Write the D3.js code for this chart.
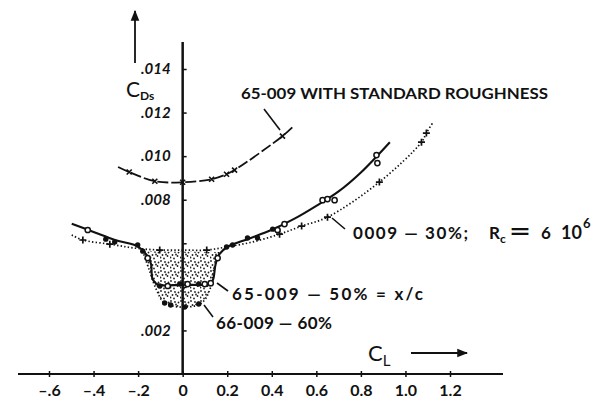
<!DOCTYPE html>
<html>
<head>
<meta charset="utf-8">
<script src="https://cdn.jsdelivr.net/npm/d3@7"></script>
<style>
  body { margin: 0; background: #fff; }
  svg { display: block; }
  text { font-family: Lato, "Open Sans", sans-serif; fill: #111; }
</style>
</head>
<body>
<svg id="chart" width="605" height="401"></svg>
<script>
// [CL, CDs] pairs

// 65-009 with standard roughness (dashed, x marks)
var roughLine = [[-0.29, 0.0095], [-0.24, 0.00927], [-0.125, 0.00885], [0, 0.0088], [0.13, 0.00894],
  [0.197, 0.00917], [0.233, 0.00936], [0.448, 0.01092], [0.50, 0.0114]];
var roughMarks = [[-0.24, 0.00927], [-0.125, 0.00885], [0, 0.0088], [0.13, 0.00894],
  [0.197, 0.00917], [0.233, 0.00936], [0.448, 0.01092]];

// 0009, transition 30% (dotted, + marks)
var line0009 = [[-0.498, 0.00638], [-0.448, 0.00615], [-0.327, 0.00596], [-0.215, 0.00578], [-0.103, 0.00569],
  [0, 0.00569], [0.108, 0.00569], [0.197, 0.00583], [0.314, 0.00606], [0.435, 0.00642], [0.534, 0.00679],
  [0.65, 0.0072], [0.883, 0.00881], [1.072, 0.01064], [1.094, 0.01106], [1.121, 0.01151]];
var marks0009 = [[-0.448, 0.00615], [-0.327, 0.00596], [-0.103, 0.00569], [0.108, 0.00569], [0.435, 0.00642],
  [0.534, 0.00679], [0.65, 0.0072], [0.883, 0.00881], [1.072, 0.01064], [1.094, 0.01106]];

// 65-009, transition 50% (solid)
var line65 = [[-0.498, 0.0069], [-0.40, 0.00652], [-0.30, 0.00614], [-0.20, 0.00585], [-0.16, 0.00545],
  [-0.142, 0.00505], [-0.135, 0.00435], [-0.11, 0.0041], [0, 0.0041], [0.125, 0.00415], [0.137, 0.00435],
  [0.148, 0.00505], [0.165, 0.0055], [0.20, 0.00583], [0.30, 0.00622], [0.40, 0.00662], [0.50, 0.00712],
  [0.60, 0.00772], [0.70, 0.00838], [0.80, 0.00925], [0.93, 0.01064]];

// 66-009, transition 60% (dotted)
var line66 = [[-0.179, 0.00564], [-0.150, 0.00477], [-0.117, 0.00385], [-0.081, 0.00326], [0.009, 0.00307],
  [0.085, 0.00326], [0.121, 0.00385], [0.139, 0.00477], [0.166, 0.0056]];

// measured points
var openPoints = [[-0.426, 0.00661], [-0.157, 0.00532], [-0.067, 0.00404], [0.022, 0.00413], [0.099, 0.00413],
  [0.126, 0.00417], [0.157, 0.00532], [0.426, 0.00661], [0.457, 0.00688], [0.628, 0.00798], [0.65, 0.00803],
  [0.682, 0.00798], [0.87, 0.01005], [0.874, 0.00968]];
var filledPoints = [[-0.345, 0.00619], [-0.305, 0.00606], [-0.202, 0.00592], [-0.179, 0.00564], [-0.103, 0.00404],
  [-0.013, 0.00413], [0.072, 0.00413], [-0.081, 0.00326], [-0.054, 0.00317], [0.009, 0.00307], [0.072, 0.00321],
  [0.197, 0.00583], [0.224, 0.00592], [0.291, 0.00624], [0.336, 0.00624], [0.404, 0.00665]];

var xTicks = [-0.6, -0.4, -0.2, 0, 0.2, 0.4, 0.6, 0.8, 1.0, 1.2];
var xTickLabels = ["\u2013.6", "\u2013.4", "\u2013.2", "0", "0.2", "0.4", "0.6", "0.8", "1.0", "1.2"];
var yTicks = [0.002, 0.004, 0.006, 0.008, 0.010, 0.012, 0.014];
var yTickLabels = [".002", "", "", ".008", ".010", ".012", ".014"];

var svg = d3.select("#chart");

var x = d3.scaleLinear().domain([-0.6, 1.2]).range([49, 450]),
  y = d3.scaleLinear().domain([0, 0.014]).range([374, 69]);

var line = d3.line()
  .x(function(d) { return x(d[0]); })
  .y(function(d) { return y(d[1]); })
  .curve(d3.curveCatmullRom.alpha(0.5));

// stipple pattern for the low drag bucket
var defs = svg.append("defs");
var pat = defs.append("pattern")
  .attr("id", "stipple")
  .attr("patternUnits", "userSpaceOnUse")
  .attr("width", 10).attr("height", 10);
[[1, 1], [5, 2], [2.5, 5], [7.5, 6], [4, 8.5], [8.5, 2.5], [0.5, 7.5], [6, 4.5]].forEach(function(p) {
  pat.append("circle").attr("cx", p[0]).attr("cy", p[1]).attr("r", 0.9).attr("fill", "#222");
});

svg.append("path")
  .attr("d", line(line66) + "Z")
  .attr("fill", "url(#stipple)");

// axes
var xAxis = d3.axisBottom(x)
  .tickValues(xTicks)
  .tickSize(3)
  .tickFormat(function(d, i) { return xTickLabels[i]; });

var gx = svg.append("g").attr("transform", "translate(0," + y(0) + ")").call(xAxis);
gx.select(".domain").remove();
gx.selectAll(".tick line").attr("y1", -3).attr("stroke", "#111").attr("stroke-width", 1.5);
gx.selectAll(".tick text")
  .attr("y", 11)
  .attr("font-size", 16)
  .attr("font-weight", "bold")
  .attr("font-family", "Lato, sans-serif")
  .attr("fill", "#111");

svg.append("line")
  .attr("x1", 18).attr("x2", 503)
  .attr("y1", y(0)).attr("y2", y(0))
  .attr("stroke", "#111").attr("stroke-width", 2);

var yAxis = d3.axisLeft(y)
  .tickValues(yTicks)
  .tickSize(4)
  .tickPadding(8)
  .tickFormat(function(d, i) { return yTickLabels[i]; });

var gy = svg.append("g").attr("transform", "translate(" + x(0) + ",0)").call(yAxis);
gy.select(".domain").remove();
gy.selectAll(".tick line").attr("x2", 4).attr("stroke", "#111").attr("stroke-width", 1.5);
gy.selectAll(".tick text")
  .attr("font-size", 15)
  .attr("font-weight", "bold")
  .attr("font-style", "italic")
  .attr("font-family", "Lato, sans-serif")
  .attr("fill", "#111");

svg.append("line")
  .attr("x1", x(0)).attr("x2", x(0))
  .attr("y1", 42).attr("y2", y(0))
  .attr("stroke", "#111").attr("stroke-width", 2.5);

// curves
svg.append("path").attr("d", line(roughLine))
  .attr("fill", "none").attr("stroke", "#111").attr("stroke-width", 1.8)
  .attr("stroke-dasharray", "11,3");

svg.append("path").attr("d", line(line0009))
  .attr("fill", "none").attr("stroke", "#111").attr("stroke-width", 1.7)
  .attr("stroke-dasharray", "1.4,2.2");

svg.append("path").attr("d", line(line66))
  .attr("fill", "none").attr("stroke", "#111").attr("stroke-width", 1.7)
  .attr("stroke-dasharray", "1.4,2.2");

svg.append("path").attr("d", line(line65))
  .attr("fill", "none").attr("stroke", "#111").attr("stroke-width", 2.1);

// markers
svg.append("g").selectAll("path").data(roughMarks).join("path")
  .attr("transform", function(d) { return "translate(" + x(d[0]) + "," + y(d[1]) + ")"; })
  .attr("d", "M-2.5,-2.5L2.5,2.5M-2.5,2.5L2.5,-2.5")
  .attr("stroke", "#111").attr("stroke-width", 1.6);

svg.append("g").selectAll("path").data(marks0009).join("path")
  .attr("transform", function(d) { return "translate(" + x(d[0]) + "," + y(d[1]) + ")"; })
  .attr("d", "M-3.5,0L3.5,0M0,-3.5L0,3.5")
  .attr("stroke", "#111").attr("stroke-width", 1.7);

svg.append("g").selectAll("circle").data(filledPoints).join("circle")
  .attr("cx", function(d) { return x(d[0]); })
  .attr("cy", function(d) { return y(d[1]); })
  .attr("r", 2.7).attr("fill", "#111");

svg.append("g").selectAll("circle").data(openPoints).join("circle")
  .attr("cx", function(d) { return x(d[0]); })
  .attr("cy", function(d) { return y(d[1]); })
  .attr("r", 2.6).attr("fill", "#fff").attr("stroke", "#111").attr("stroke-width", 1.5);

// annotations
function leader(x1, y1, x2, y2) {
  svg.append("line").attr("x1", x1).attr("y1", y1).attr("x2", x2).attr("y2", y2)
    .attr("stroke", "#111").attr("stroke-width", 1.6);
}

leader(264, 109, 280, 130);
svg.append("text").attr("x", 241).attr("y", 99)
  .attr("font-size", 15).attr("font-weight", "bold")
  .attr("textLength", 307).attr("lengthAdjust", "spacingAndGlyphs")
  .text("65-009 WITH STANDARD ROUGHNESS");

leader(332, 218, 345, 229);
svg.append("text").attr("x", 353).attr("y", 239).attr("font-size", 17).attr("font-weight", "bold")
  .attr("textLength", 115).attr("lengthAdjust", "spacing")
  .text("0009  \u2014  30%;");
var t1 = svg.append("text").attr("x", 489).attr("y", 239).attr("font-size", 17).attr("font-weight", "bold");
t1.append("tspan").text("R");
t1.append("tspan").attr("dy", 4).attr("font-size", 12).text("c");
t1.append("tspan").attr("dy", -3).attr("x", 509).attr("font-size", 25)
  .attr("textLength", 22).attr("lengthAdjust", "spacingAndGlyphs").text("=");
t1.append("tspan").attr("dy", -1).attr("x", 541).text("6");
t1.append("tspan").attr("x", 561).attr("font-size", 18).text("10");
t1.append("tspan").attr("dy", -11).attr("x", 583).attr("font-size", 13).text("6");

leader(217, 283, 228, 291);
svg.append("text").attr("x", 232).attr("y", 300).attr("font-size", 17).attr("font-weight", "bold")
  .attr("textLength", 191).attr("lengthAdjust", "spacing")
  .text("65-009  \u2014  50%  =  x/c");

leader(204, 305, 213, 317);
svg.append("text").attr("x", 216).attr("y", 329).attr("font-size", 17).attr("font-weight", "bold")
  .attr("textLength", 116).attr("lengthAdjust", "spacing")
  .text("66-009  \u2014  60%");

// axis titles with arrows
defs.append("marker").attr("id", "arrow")
  .attr("viewBox", "0 0 10 10").attr("refX", 9).attr("refY", 5)
  .attr("markerWidth", 6).attr("markerHeight", 6).attr("orient", "auto")
  .append("path").attr("d", "M0,1L10,5L0,9Z").attr("fill", "#111");

svg.append("line").attr("x1", 411).attr("x2", 467).attr("y1", 353).attr("y2", 353)
  .attr("stroke", "#111").attr("stroke-width", 1.8).attr("marker-end", "url(#arrow)");
var tl = svg.append("text").attr("x", 368).attr("y", 361).attr("font-size", 22);
tl.append("tspan").text("C");
tl.append("tspan").attr("dy", 5).attr("font-size", 15).text("L");

svg.append("line").attr("x1", 135).attr("x2", 135).attr("y1", 63).attr("y2", 11)
  .attr("stroke", "#111").attr("stroke-width", 1.8).attr("marker-end", "url(#arrow)");
var td = svg.append("text").attr("x", 126).attr("y", 97).attr("font-size", 21);
td.append("tspan").text("C");
td.append("tspan").attr("dy", 3).attr("font-size", 12).attr("font-weight", "bold").text("Ds");
</script>
</body>
</html>
